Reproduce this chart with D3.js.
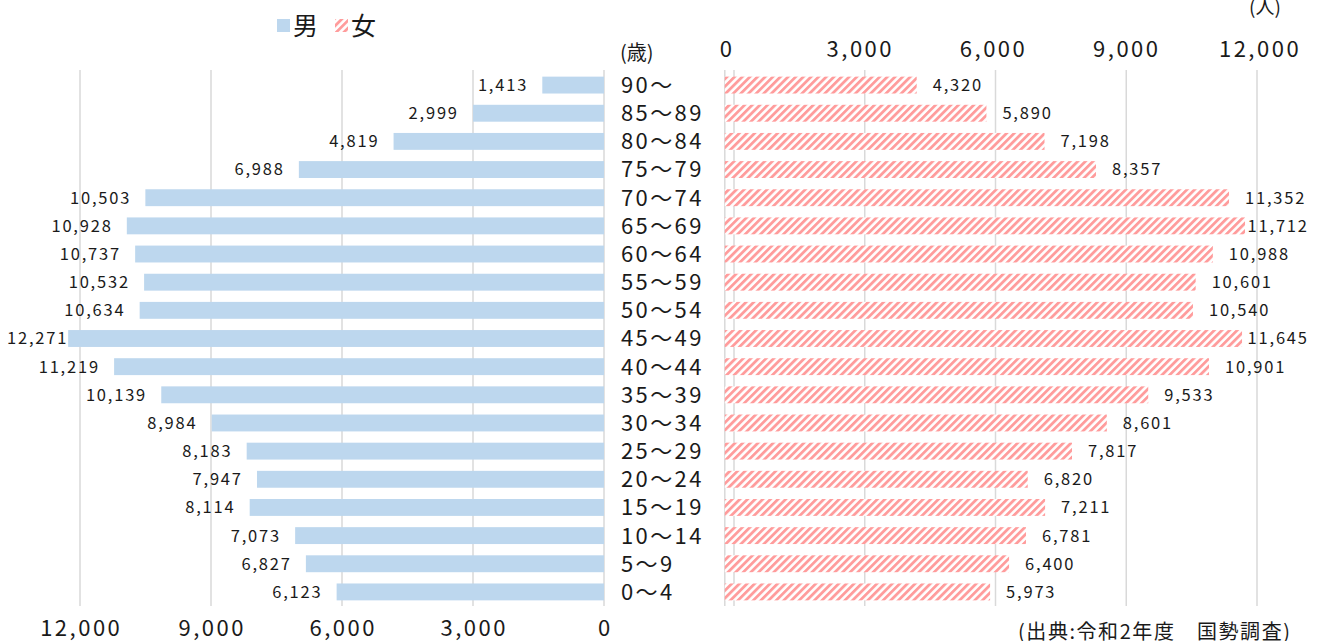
<!DOCTYPE html>
<html lang="ja">
<head>
<meta charset="utf-8">
<script src="https://cdn.jsdelivr.net/npm/d3@7"></script>
<style>
  html, body { margin: 0; padding: 0; background: #fff; }
  svg { display: block; font-family: "Noto Sans CJK JP", "Noto Sans", sans-serif; }
</style>
</head>
<body>
<svg id="chart" width="1324" height="641"></svg>
<script>
// 年齢階級（上が高齢）
const ageGroups = ["90～", "85～89", "80～84", "75～79", "70～74", "65～69", "60～64",
  "55～59", "50～54", "45～49", "40～44", "35～39", "30～34", "25～29",
  "20～24", "15～19", "10～14", "5～9", "0～4"];
// 男性人口（人）
const maleValues = [1413, 2999, 4819, 6988, 10503, 10928, 10737, 10532, 10634, 12271,
  11219, 10139, 8984, 8183, 7947, 8114, 7073, 6827, 6123];
// 女性人口（人）
const femaleValues = [4320, 5890, 7198, 8357, 11352, 11712, 10988, 10601, 10540, 11645,
  10901, 9533, 8601, 7817, 6820, 7211, 6781, 6400, 5973];
// 目盛
const tickValues = [0, 3000, 6000, 9000, 12000];
const seriesNames = ["男", "女"];

const svg = d3.select("#chart");
const fmt = d3.format(",");

const maleColor = "#bdd7ee";
const femaleStripe = "#ff9c9c";
const gridColor = "#d9d9d9";
const textColor = "#1a1a1a";

// 斜線パターン（女）
const defs = svg.append("defs");
const pat = defs.append("pattern")
  .attr("id", "hatch")
  .attr("patternUnits", "userSpaceOnUse")
  .attr("width", 5.4).attr("height", 5.4)
  .attr("patternTransform", "rotate(45)");
pat.append("rect").attr("width", 5.4).attr("height", 5.4).attr("fill", "#fff");
pat.append("rect").attr("width", 2.8).attr("height", 5.4).attr("fill", femaleStripe);

const rows = ageGroups.map((a, i) => ({ age: a, male: maleValues[i], female: femaleValues[i] }));

// 縦方向
const y = d3.scaleBand().domain(ageGroups).range([71, 606]).paddingInner(0.4).paddingOuter(0.2);

// 横方向（左：男、右：女）
const xLeft = d3.scaleLinear().domain([0, 12000]).range([604, 80]);
const xRight = d3.scaleLinear().domain([0, 12000]).range([724.8, 1257.8]);
const xRightGrid = d3.scaleLinear().domain([0, 12000]).range([734, 1257]);

const gridTop = 70, gridBottom = 606;

// 目盛線
svg.append("g").selectAll("line").data(tickValues).join("line")
  .attr("x1", d => xLeft(d)).attr("x2", d => xLeft(d))
  .attr("y1", gridTop).attr("y2", gridBottom)
  .attr("stroke", gridColor).attr("stroke-width", 1.5);
svg.append("g").selectAll("line").data(tickValues).join("line")
  .attr("x1", d => xRightGrid(d)).attr("x2", d => xRightGrid(d))
  .attr("y1", gridTop).attr("y2", gridBottom)
  .attr("stroke", gridColor).attr("stroke-width", 1.5);
svg.append("line")
  .attr("x1", xRight(0)).attr("x2", xRight(0))
  .attr("y1", gridTop).attr("y2", gridBottom)
  .attr("stroke", gridColor).attr("stroke-width", 1.5);

// 棒（男）
svg.append("g").selectAll("rect").data(rows).join("rect")
  .attr("x", d => xLeft(d.male))
  .attr("y", d => y(d.age))
  .attr("width", d => xLeft(0) - xLeft(d.male))
  .attr("height", y.bandwidth())
  .attr("fill", maleColor);

// 棒（女）
svg.append("g").selectAll("rect").data(rows).join("rect")
  .attr("x", xRight(0))
  .attr("y", d => y(d.age))
  .attr("width", d => xRight(d.female) - xRight(0))
  .attr("height", y.bandwidth())
  .attr("fill", "url(#hatch)");

// 数値ラベル
const valueFont = 16.5;
const valueSpacing = 1.8;
const leftLabels = svg.append("g").selectAll("text").data(rows).join("text")
  .attr("y", d => y(d.age) + y.bandwidth() / 2)
  .attr("dy", "0.36em")
  .attr("font-size", valueFont)
  .attr("letter-spacing", valueSpacing)
  .attr("fill", textColor)
  .text(d => fmt(d.male));
leftLabels.each(function (d) {
  const w = this.getComputedTextLength() - valueSpacing;
  const xr = Math.max(xLeft(d.male) - 16, 7 + w);
  d3.select(this).attr("x", xr - w);
});

const rightLabels = svg.append("g").selectAll("text").data(rows).join("text")
  .attr("y", d => y(d.age) + y.bandwidth() / 2)
  .attr("dy", "0.36em")
  .attr("font-size", valueFont)
  .attr("letter-spacing", valueSpacing)
  .attr("fill", textColor)
  .text(d => fmt(d.female));
rightLabels.each(function (d) {
  const w = this.getComputedTextLength() - valueSpacing;
  const xl = Math.min(xRight(d.female) + 16, 1307 - w);
  d3.select(this).attr("x", xl);
});

// 年齢ラベル
svg.append("g").selectAll("text").data(rows).join("text")
  .attr("x", 621)
  .attr("y", d => y(d.age) + y.bandwidth() / 2)
  .attr("dy", "0.36em")
  .attr("font-size", 22)
  .attr("letter-spacing", 2.4)
  .attr("fill", textColor)
  .text(d => d.age);

svg.append("text")
  .attr("x", 620).attr("y", 60)
  .attr("font-size", 20)
  .attr("fill", textColor)
  .text("(歳)");

// 軸ラベル（右：上、左：下）
const tickSpacing = 2.5;
svg.append("g").selectAll("text").data(tickValues).join("text")
  .attr("x", d => xRight(d) + 1 + tickSpacing / 2)
  .attr("y", 57)
  .attr("text-anchor", "middle")
  .attr("font-size", 22)
  .attr("letter-spacing", tickSpacing)
  .attr("fill", textColor)
  .text(d => fmt(d));

svg.append("g").selectAll("text").data(tickValues).join("text")
  .attr("x", d => xLeft(d) + tickSpacing / 2)
  .attr("y", 636)
  .attr("text-anchor", "middle")
  .attr("font-size", 22)
  .attr("letter-spacing", tickSpacing)
  .attr("fill", textColor)
  .text(d => fmt(d));

// 単位
svg.append("text")
  .attr("x", 1265).attr("y", 14)
  .attr("text-anchor", "middle")
  .attr("font-size", 19)
  .attr("fill", textColor)
  .text("(人)");

// 凡例
const legend = svg.append("g");
legend.append("rect").attr("x", 277).attr("y", 19).attr("width", 13).attr("height", 13).attr("fill", maleColor);
legend.append("text").attr("x", 293).attr("y", 35).attr("font-size", 25).attr("fill", textColor).text(seriesNames[0]);
legend.append("rect").attr("x", 335).attr("y", 19).attr("width", 13).attr("height", 13).attr("fill", "url(#hatch)");
legend.append("text").attr("x", 351).attr("y", 35).attr("font-size", 25).attr("fill", textColor).text(seriesNames[1]);

// 出典
svg.append("text")
  .attr("x", 1018).attr("y", 639)
  .attr("font-size", 20)
  .attr("textLength", 272)
  .attr("lengthAdjust", "spacing")
  .attr("fill", textColor)
  .text("(出典:令和2年度　国勢調査)");
</script>
</body>
</html>
